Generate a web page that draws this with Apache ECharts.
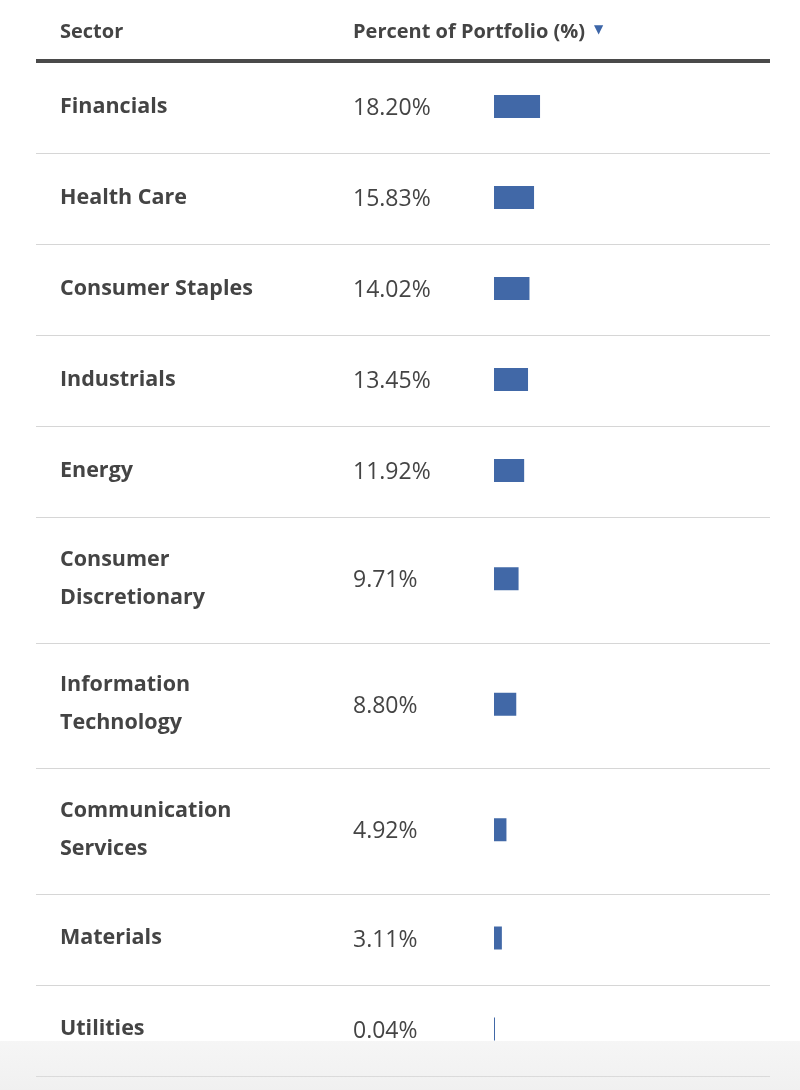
<!DOCTYPE html>
<html>
<head>
<meta charset="utf-8">
<script src="https://cdn.jsdelivr.net/npm/echarts@6/dist/echarts.min.js"></script>
<style>
  html, body { margin: 0; padding: 0; background: #fff; }
  #chart { width: 800px; height: 1090px; }
</style>
</head>
<body>
<div id="chart"></div>
<script>
// ---- data ----
const sectors = [
  'Financials',
  'Health Care',
  'Consumer Staples',
  'Industrials',
  'Energy',
  'Consumer\nDiscretionary',
  'Information\nTechnology',
  'Communication\nServices',
  'Materials',
  'Utilities'
];
const percents = [18.20, 15.83, 14.02, 13.45, 11.92, 9.71, 8.80, 4.92, 3.11, 0.04];
const headerSector = 'Sector';
const headerPercent = 'Percent of Portfolio (%)';

// ---- layout (computed from label line count) ----
const ONE = 91, TWO = 125.5;
const rowH = sectors.map(s => s.indexOf('\n') >= 0 ? TWO : ONE);
const rowTop = [];
let acc = 0;
rowH.forEach(h => { rowTop.push(acc); acc += h; });
const TOTAL = acc;
const rowsData = percents.map((v, i) => [v, rowTop[i] + rowH[i] / 2, rowTop[i] + rowH[i], i]);

const GRID_TOP = 62;
const FONT = '"Open Sans", "Noto Sans", sans-serif';

const chart = echarts.init(document.getElementById('chart'), null, { renderer: 'canvas' });

chart.setOption({
  animation: false,
  backgroundColor: '#ffffff',
  grid: { left: 494, top: GRID_TOP, width: 253, height: TOTAL },
  xAxis: { type: 'value', min: 0, max: 100, show: false },
  yAxis: { type: 'value', min: 0, max: TOTAL, inverse: true, show: false },
  graphic: [
    { type: 'text', x: 60, y: 32, style: { text: headerSector, font: '700 20px ' + FONT, fill: '#444', verticalAlign: 'middle' } },
    { type: 'text', x: 353, y: 32, style: { text: headerPercent, font: '700 20px ' + FONT, fill: '#444', verticalAlign: 'middle' } },
    { type: 'text', x: 594, y: 30, style: { text: '▼', font: '12px "DejaVu Sans"', fill: '#3d66a8', verticalAlign: 'middle' } },
    { type: 'rect', shape: { x: 36, y: 59, width: 734, height: 4 }, style: { fill: '#4a4a4a' } },
    { type: 'rect', z: 100, shape: { x: 0, y: 1041, width: 800, height: 49 },
      style: { fill: new echarts.graphic.LinearGradient(0, 0, 0, 1, [
        { offset: 0, color: 'rgba(228,228,228,0.35)' },
        { offset: 1, color: 'rgba(222,222,222,0.45)' }
      ]) } }
  ],
  series: [{
    type: 'custom',
    data: rowsData,
    encode: { x: 0, y: 1 },
    renderItem: function (params, api) {
      const v = api.value(0);
      const center = api.value(1);
      const bottom = api.value(2);
      const i = api.value(3);
      const p0 = api.coord([0, center]);
      const p1 = api.coord([v, center]);
      const pb = api.coord([0, bottom]);
      const w = Math.max(p1[0] - p0[0], 1);
      const barH = 23;
      const label = sectors[i];
      return {
        type: 'group',
        children: [
          { type: 'rect', shape: { x: p0[0], y: p0[1] - barH / 2 - 1, width: w, height: barH },
            style: { fill: '#4168a7' } },
          { type: 'text', style: { text: label, x: 60, y: p0[1] - 1, font: '700 21.5px ' + FONT,
              fill: '#444', verticalAlign: 'middle', align: 'left', lineHeight: 38 } },
          { type: 'text', style: { text: v.toFixed(2) + '%', x: 353, y: p0[1] + 1, font: '400 23px ' + FONT,
              fill: '#444', verticalAlign: 'middle', align: 'left' } },
          { type: 'line', shape: { x1: 36, y1: Math.round(pb[1]) + 0.5, x2: 770, y2: Math.round(pb[1]) + 0.5 },
            style: { stroke: '#d6d6d6', lineWidth: 1 } }
        ]
      };
    }
  }]
});
</script>
</body>
</html>
